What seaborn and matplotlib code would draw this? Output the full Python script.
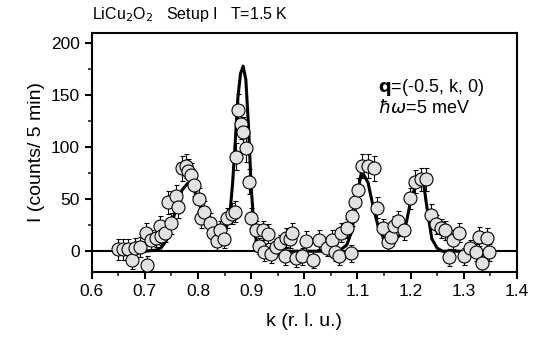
import matplotlib
matplotlib.use("Agg")
import matplotlib.pyplot as plt
import seaborn as sns
import pandas as pd
from matplotlib.ticker import MultipleLocator

K = [0.649, 0.659, 0.668, 0.675, 0.681, 0.690, 0.702, 0.704, 0.711, 0.720,
     0.728, 0.731, 0.737, 0.744, 0.750, 0.758, 0.762, 0.769, 0.777, 0.781,
     0.786, 0.793, 0.802, 0.806, 0.812, 0.822, 0.828, 0.836, 0.842, 0.848,
     0.855, 0.863, 0.869, 0.871, 0.876, 0.880, 0.885, 0.890, 0.896, 0.900,
     0.910, 0.914, 0.922, 0.925, 0.932, 0.938, 0.946, 0.954, 0.963, 0.966,
     0.973, 0.976, 0.985, 0.995, 1.003, 1.016, 1.028, 1.042, 1.052, 1.058,
     1.066, 1.070, 1.080, 1.087, 1.089, 1.096, 1.101, 1.108, 1.120, 1.131,
     1.137, 1.148, 1.157, 1.163, 1.169, 1.177, 1.188, 1.199, 1.208, 1.220,
     1.229, 1.239, 1.247, 1.258, 1.264, 1.272, 1.279, 1.292, 1.301, 1.311,
     1.323, 1.329, 1.335, 1.343, 1.347]
I = [2, 2, 2, -8, 3, 4, 18, -13, 11, 13,
     24, 15, 18, 47, 27, 53, 43, 80, 82, 77,
     73, 64, 50, 32, 38, 27, 18, 10, 20, 12,
     32, 36, 38, 91, 136, 122, 115, 99, 67, 32,
     20, 5, 20, -1, 17, -3, 4, 8, -5, 13,
     12, 18, -7, -5, 10, -8, 11, 3, 11, -1,
     -5, 18, 22, -2, 34, 47, 59, 82, 82, 80,
     42, 22, 9, 14, 24, 29, 20, 51, 67, 69,
     69, 35, 26, 22, 20, -6, 11, 18, -5, 3,
     -1, 14, -11, 13, -1]
ERR = [10, 10, 10, 9, 10, 10, 9, 8, 9, 9,
       10, 9, 9, 11, 10, 11, 11, 12, 12, 12,
       12, 11, 11, 10, 10, 10, 9, 9, 9, 9,
       10, 10, 10, 13, 15, 14, 14, 13, 12, 10,
       9, 8, 9, 8, 9, 8, 8, 8, 8, 9,
       9, 9, 8, 8, 9, 8, 9, 8, 9, 8,
       8, 9, 9, 8, 10, 10, 11, 12, 12, 12,
       10, 9, 9, 9, 10, 10, 9, 10, 11, 11,
       11, 10, 9, 9, 9, 8, 9, 9, 8, 8,
       8, 9, 8, 9, 8]

# fitted curve
FIT_K = [0.64, 0.70, 0.72, 0.73, 0.74, 0.75, 0.76, 0.77, 0.78, 0.79,
         0.80, 0.81, 0.82, 0.83, 0.84, 0.85, 0.86, 0.865, 0.87, 0.875,
         0.88, 0.885, 0.89, 0.895, 0.90, 0.905, 0.91, 0.92, 0.93, 1.06,
         1.07, 1.08, 1.09, 1.10, 1.108, 1.12, 1.13, 1.14, 1.15, 1.16,
         1.17, 1.18, 1.19, 1.20, 1.21, 1.218, 1.225, 1.23, 1.24, 1.25,
         1.26, 1.35]
FIT_I = [0, 0, 1, 3, 10, 25, 44, 59, 65, 62,
         50, 36, 23, 15, 12, 16, 36, 65, 105, 148,
         171, 178, 165, 120, 62, 26, 9, 2, 0, 0,
         2, 6, 20, 55, 77, 66, 42, 22, 12, 10,
         12, 15, 22, 48, 64, 70, 64, 45, 12, 3,
         0, 0]

pts = pd.DataFrame({"k": K, "I": I, "err": ERR})
fit = pd.DataFrame({"k": FIT_K, "I": FIT_I})

sns.set_style("ticks")
plt.rcParams["font.family"] = ["Liberation Sans", "DejaVu Sans"]
plt.rcParams["text.color"] = "black"
plt.rcParams["axes.labelcolor"] = "black"

fig = plt.figure(figsize=(5.4, 3.43), dpi=100)
ax = fig.add_axes([0.170, 0.207, 0.787, 0.697])

ax.axhline(0, color="black", lw=1.5, zorder=1)
sns.lineplot(data=fit, x="k", y="I", ax=ax, color="black", lw=2.2,
             zorder=2, estimator=None, sort=False)
ax.errorbar(pts["k"], pts["I"], yerr=pts["err"], fmt="none",
            ecolor="black", elinewidth=0.8, capsize=1.8, capthick=0.8, zorder=3)
sns.scatterplot(data=pts, x="k", y="I", ax=ax, s=88, color="#e2e2e2",
                edgecolor="black", linewidth=0.8, zorder=4)

ax.set_xlim(0.6, 1.4)
ax.set_ylim(-20, 210)
ax.xaxis.set_major_locator(MultipleLocator(0.1))
ax.xaxis.set_minor_locator(MultipleLocator(0.05))
ax.yaxis.set_major_locator(MultipleLocator(50))
ax.yaxis.set_minor_locator(MultipleLocator(25))
ax.set_xticks([0.6, 0.7, 0.8, 0.9, 1.0, 1.1, 1.2, 1.3, 1.4])
ax.set_xticklabels(["0.6", "0.7", "0.8", "0.9", "1.0", "1.1", "1.2", "1.3", "1.4"])
ax.tick_params(which="major", direction="out", length=5, width=1.5,
               labelsize=12.5, colors="black")
ax.tick_params(which="minor", direction="out", length=3, width=1.2)
for s in ax.spines.values():
    s.set_linewidth(1.5)
    s.set_color("black")

ax.set_xlabel("k (r. l. u.)", fontsize=14, labelpad=10)
ax.set_ylabel("I (counts/ 5 min)", fontsize=14, labelpad=4)

fig.text(0.170, 0.945, r"LiCu$_2$O$_2$   Setup I   T=1.5 K", fontsize=11.5,
         ha="left", va="baseline")
ax.text(0.673, 0.755, r"$\mathbf{q}$=(-0.5, k, 0)", transform=ax.transAxes,
        fontsize=13, ha="left")
ax.text(0.673, 0.665, r"$\hbar\omega$=5 meV", transform=ax.transAxes,
        fontsize=13, ha="left")

fig.savefig("out.png", dpi=100)
